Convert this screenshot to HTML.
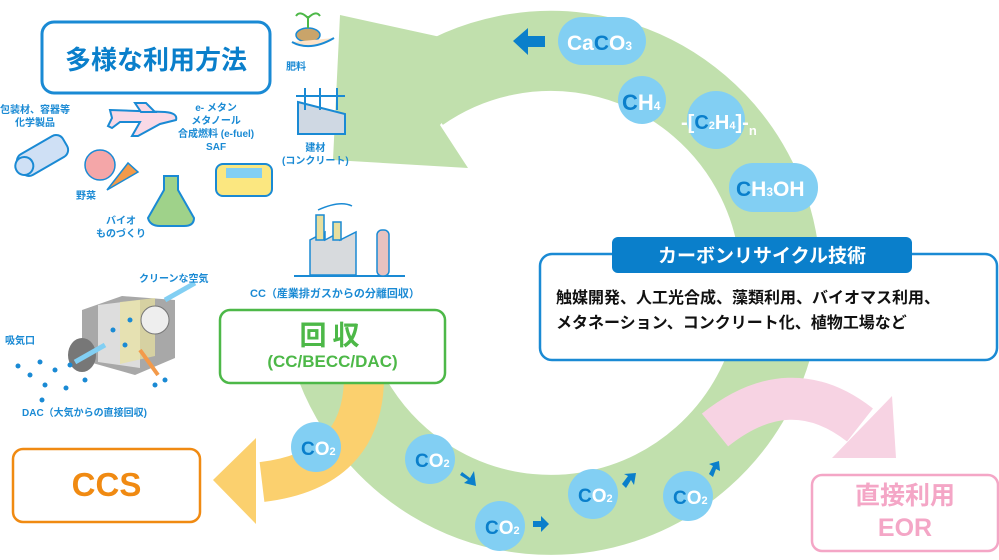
<!DOCTYPE html>
<html><head><meta charset="utf-8"><style>
body{margin:0;width:999px;height:560px;background:#fff;overflow:hidden;font-family:"Liberation Sans","Noto Sans CJK JP",sans-serif;position:relative}
.t{position:absolute;white-space:nowrap}
</style></head><body>
<svg width="999" height="560" style="position:absolute;left:0;top:0" font-family="Liberation Sans, Noto Sans CJK JP, sans-serif">
<path d="M420,92 A230,232 0 1 1 324,322" fill="none" stroke="#c1e0ad" stroke-width="80"/>
<polygon points="340,15 333,160 468,168 440,125 500,50" fill="#c1e0ad"/>
<path d="M715,430 Q790,370 860,425" fill="none" stroke="#f7d3e3" stroke-width="42"/>
<polygon points="892,396 896,458 832,458" fill="#f7d3e3"/>
<path d="M364,380 Q362,470 262,482" fill="none" stroke="#fbd06e" stroke-width="40"/>
<polygon points="256,438 213,480 256,524" fill="#fbd06e"/>
<rect x="558" y="17" width="88" height="48" rx="24" fill="#82cff3"/>
<polygon points="513,41 528,28 528,36 545,36 545,47 528,47 528,55" fill="#0a7fcb"/>
<circle cx="642" cy="100" r="24" fill="#82cff3"/>
<circle cx="716" cy="120" r="29" fill="#82cff3"/>
<rect x="729" y="163" width="89" height="49" rx="24" fill="#82cff3"/>
<g fill="#82cff3"><circle cx="316" cy="447" r="25"/><circle cx="430" cy="459" r="25"/><circle cx="500" cy="526" r="25"/><circle cx="593" cy="494" r="25"/><circle cx="688" cy="496" r="25"/></g>
<g fill="#0a7fcb">
<polygon points="462,472 470,478 474,471 476,486 464,483 468,480 460,475"/>
<polygon points="533,521 541,521 541,516 549,524 541,532 541,527 533,527"/>
<polygon points="622,484 628,476 624,474 636,473 634,485 631,480 626,488"/>
<polygon points="709,474 713,466 709,464 719,461 720,471 716,469 713,477"/>
</g>
<g fill="#fff" font-weight="bold">
<text x="567" y="50" font-size="21">Ca<tspan fill="#0a7fcb">C</tspan>O<tspan font-size="12">3</tspan></text>
<text x="622" y="110" font-size="22"><tspan fill="#0a7fcb">C</tspan>H<tspan font-size="12">4</tspan></text>
<text x="681" y="129" font-size="20">-[<tspan fill="#0a7fcb">C</tspan><tspan font-size="11">2</tspan>H<tspan font-size="11">4</tspan>]-<tspan font-size="13" dy="6">n</tspan></text>
<text x="736" y="196" font-size="21"><tspan fill="#0a7fcb">C</tspan>H<tspan font-size="12">3</tspan>OH</text>
<g font-size="19"><text x="301" y="455"><tspan fill="#0a7fcb">C</tspan>O<tspan font-size="11">2</tspan></text>
<text x="415" y="467"><tspan fill="#0a7fcb">C</tspan>O<tspan font-size="11">2</tspan></text>
<text x="485" y="534"><tspan fill="#0a7fcb">C</tspan>O<tspan font-size="11">2</tspan></text>
<text x="578" y="502"><tspan fill="#0a7fcb">C</tspan>O<tspan font-size="11">2</tspan></text>
<text x="673" y="504"><tspan fill="#0a7fcb">C</tspan>O<tspan font-size="11">2</tspan></text></g>
</g>
<rect x="42" y="22" width="228" height="71" rx="12" fill="#fff" stroke="#1a8ad4" stroke-width="3"/>
<rect x="540" y="254" width="457" height="106" rx="12" fill="#fff" stroke="#1a8ad4" stroke-width="2.5"/>
<rect x="612" y="237" width="300" height="36" rx="6" fill="#0a7fcb"/>
<rect x="220" y="310" width="225" height="73" rx="10" fill="#fff" stroke="#4db848" stroke-width="2.5"/>
<rect x="13" y="449" width="187" height="73" rx="10" fill="#fff" stroke="#f08a12" stroke-width="2.5"/>
<rect x="812" y="475" width="186" height="76" rx="10" fill="#fff" stroke="#f4a6c6" stroke-width="2.5"/>
<path d="M110,110 L165,112 Q178,113 176,120 L160,124 L138,136 L132,136 L140,122 L120,122 L112,128 L108,126 L112,118 Z" fill="#f9d9e6" stroke="#1a8ad4" stroke-width="2"/>
<path d="M135,103 L146,103 L155,112 L141,112Z" fill="#f9d9e6" stroke="#1a8ad4" stroke-width="2"/>
<g transform="translate(18,165) rotate(-30)"><rect x="0" y="-8" width="52" height="24" rx="8" fill="#cfe0f5" stroke="#1a8ad4" stroke-width="2"/><circle cx="5" cy="4" r="9" fill="#cfe0f5" stroke="#1a8ad4" stroke-width="2"/></g>
<circle cx="100" cy="165" r="15" fill="#f4a6a8" stroke="#1a8ad4" stroke-width="1.5"/>
<path d="M107,190 L128,163 L138,172 Z" fill="#f39a4a" stroke="#1a8ad4" stroke-width="1.5"/>
<path d="M164,176 L164,190 L148,218 Q150,226 160,226 L184,226 Q194,226 194,218 L178,190 L178,176 Z" fill="#9fd28a" stroke="#1a8ad4" stroke-width="2"/>
<rect x="216" y="164" width="56" height="32" rx="7" fill="#fbe780" stroke="#1a8ad4" stroke-width="2"/>
<rect x="226" y="168" width="36" height="10" fill="#82cff3"/>
<path d="M298,102 L345,114 L345,134 L298,134 Z" fill="#cfd8e3" stroke="#1a8ad4" stroke-width="2"/>
<path d="M296,96 H345 M305,88 V110 M320,88 V110 M337,88 V110" stroke="#1a8ad4" stroke-width="2"/>
<ellipse cx="308" cy="35" rx="12" ry="7" fill="#c9a46a" stroke="#1a8ad4" stroke-width="1.5"/>
<path d="M292,42 Q310,52 334,38" fill="#fde3c8" stroke="#1a8ad4" stroke-width="2"/>
<path d="M308,28 V16 M308,18 Q300,10 296,16 M308,18 Q316,10 320,16" stroke="#4db848" stroke-width="2" fill="none"/>
<path d="M294,276 H405" stroke="#1a8ad4" stroke-width="2"/>
<path d="M310,275 V240 L325,232 V240 L340,232 V240 L356,232 V275 Z" fill="#d7dadd" stroke="#1a8ad4" stroke-width="1.5"/>
<rect x="316" y="215" width="8" height="25" fill="#e8df9e" stroke="#1a8ad4" stroke-width="1.5"/>
<rect x="333" y="222" width="8" height="18" fill="#e8df9e" stroke="#1a8ad4" stroke-width="1.5"/>
<rect x="377" y="230" width="12" height="46" rx="5" fill="#e8c2c0" stroke="#1a8ad4" stroke-width="1.5"/>
<path d="M318,210 Q340,200 352,206" stroke="#1a8ad4" fill="none" stroke-width="1.5"/>
<polygon points="82,310 122,296 175,300 175,358 135,375 82,360" fill="#a8a8a8"/>
<polygon points="98,305 140,300 140,368 98,362" fill="#ddd"/>
<polygon points="120,302 155,298 155,356 120,364" fill="#e9e2a0" opacity="0.7"/>
<ellipse cx="82" cy="355" rx="14" ry="17" fill="#777"/>
<circle cx="155" cy="320" r="14" fill="#eee" stroke="#777"/>
<path d="M165,300 L195,283" stroke="#82cff3" stroke-width="5"/>
<path d="M75,362 L105,345" stroke="#82cff3" stroke-width="5"/>
<path d="M140,350 L158,375" stroke="#f39a4a" stroke-width="4"/>
<g fill="#1a8ad4"><circle cx="18" cy="366" r="2.5"/><circle cx="30" cy="375" r="2.5"/><circle cx="40" cy="362" r="2.5"/><circle cx="45" cy="385" r="2.5"/><circle cx="55" cy="370" r="2.5"/><circle cx="66" cy="388" r="2.5"/><circle cx="70" cy="365" r="2.5"/><circle cx="42" cy="400" r="2.5"/><circle cx="85" cy="380" r="2.5"/><circle cx="155" cy="385" r="2.5"/><circle cx="165" cy="380" r="2.5"/><circle cx="113" cy="330" r="2.5"/><circle cx="125" cy="345" r="2.5"/><circle cx="130" cy="320" r="2.5"/></g>
</svg>
<div class="t" style="left:42px;top:40px;width:228px;text-align:center;font-size:26px;font-weight:bold;color:#0a7fcb">多様な利用方法</div>
<div class="t" style="left:286px;top:58px;font-size:10px;font-weight:bold;color:#1a8ad4">肥料</div>
<div class="t" style="left:0px;top:104px;font-size:10px;font-weight:bold;color:#1a8ad4;text-align:center;line-height:13px">包装材、容器等<br>化学製品</div>
<div class="t" style="left:178px;top:102px;font-size:10px;font-weight:bold;color:#1a8ad4;text-align:center;line-height:13px">e- メタン<br>メタノール<br>合成燃料 (e-fuel)<br>SAF</div>
<div class="t" style="left:282px;top:142px;font-size:10px;font-weight:bold;color:#1a8ad4;text-align:center;line-height:13px">建材<br>(コンクリート)</div>
<div class="t" style="left:76px;top:187px;font-size:10px;font-weight:bold;color:#1a8ad4">野菜</div>
<div class="t" style="left:96px;top:215px;font-size:10px;font-weight:bold;color:#1a8ad4;text-align:center;line-height:13px">バイオ<br>ものづくり</div>
<div class="t" style="left:139px;top:270px;font-size:10px;font-weight:bold;color:#1a8ad4">クリーンな空気</div>
<div class="t" style="left:250px;top:285px;font-size:11px;font-weight:bold;color:#1a8ad4">CC（産業排ガスからの分離回収）</div>
<div class="t" style="left:5px;top:332px;font-size:10px;font-weight:bold;color:#1a8ad4">吸気口</div>
<div class="t" style="left:22px;top:404px;font-size:10px;font-weight:bold;color:#1a8ad4">DAC（大気からの直接回収)</div>
<div class="t" style="left:220px;top:314px;width:225px;text-align:center;font-size:27px;font-weight:bold;color:#4db848;letter-spacing:6px">回収</div>
<div class="t" style="left:220px;top:352px;width:225px;text-align:center;font-size:17px;font-weight:bold;color:#4db848">(CC/BECC/DAC)</div>
<div class="t" style="left:13px;top:466px;width:187px;text-align:center;font-size:33px;font-weight:bold;color:#f08a12">CCS</div>
<div class="t" style="left:812px;top:480px;width:186px;text-align:center;font-size:25px;font-weight:bold;color:#f4a6c6;line-height:32px">直接利用<br>EOR</div>
<div class="t" style="left:612px;top:241px;width:300px;text-align:center;font-size:19px;font-weight:bold;color:#fff">カーボンリサイクル技術</div>
<div class="t" style="left:556px;top:286px;font-size:16px;font-weight:bold;color:#111;line-height:25px">触媒開発、人工光合成、藻類利用、バイオマス利用、<br>メタネーション、コンクリート化、植物工場など</div>
</body></html>
